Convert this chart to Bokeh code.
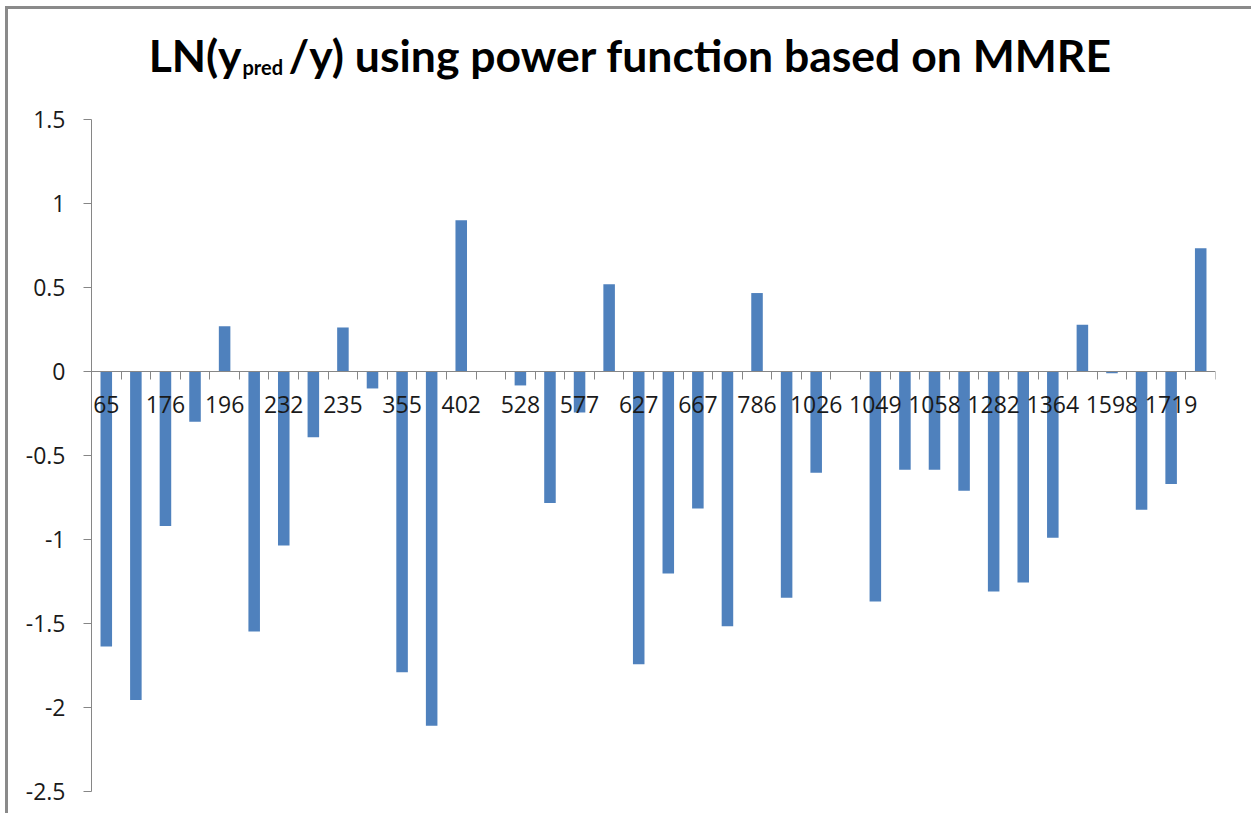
from bokeh.plotting import figure
from bokeh.models import FixedTicker, Label
from bokeh.embed import file_html
from bokeh.resources import INLINE

# ---- data ----
values = [-1.637, -1.956, -0.920, -0.299, 0.270, -1.548, -1.036, -0.391, 0.262, -0.101,
          -1.790, -2.109, 0.901, 0.0, -0.083, -0.783, -0.244, 0.520, -1.742, -1.202,
          -0.815, -1.516, 0.467, -1.347, -0.603, 0.0, -1.369, -0.585, -0.585, -0.710,
          -1.310, -1.256, -0.990, 0.278, -0.010, -0.823, -0.670, 0.734]
tick_labels = ["65", "176", "196", "232", "235", "355", "402", "528", "577", "627",
               "667", "786", "1026", "1049", "1058", "1282", "1364", "1598", "1719"]
y_ticks = [-2.5, -2.0, -1.5, -1.0, -0.5, 0.0, 0.5, 1.0, 1.5]

n = len(values)
xs = list(range(1, n + 1))
label_pos = xs[0::2]

AXIS_COLOR = "#868686"
TEXT_COLOR = "#1a1a1a"

# layout geometry (pixels on the canvas)
W, H = 1246, 807
FRAME_L, FRAME_R, FRAME_B = 83, 1207, 782
Y_MIN, Y_AX_MAX = -2.5, 1.5
AX_TOP = 110                                 # canvas y of the 1.5 tick
PX_PER_UNIT = (FRAME_B - AX_TOP) / (Y_AX_MAX - Y_MIN)
Y_TOP = Y_AX_MAX + AX_TOP / PX_PER_UNIT      # frame reaches the canvas top (room for title)
X_PX = (FRAME_R - FRAME_L) / n


def cx(px):  # canvas px -> x data
    return 0.5 + (px - FRAME_L) / X_PX


def cy(py):  # canvas px -> y data
    return Y_AX_MAX + (AX_TOP - py) / PX_PER_UNIT


p = figure(width=W, height=H, output_backend="svg", toolbar_location=None,
           x_range=(0.5, n + 0.5), y_range=(Y_MIN, Y_TOP),
           min_border_left=FRAME_L, min_border_right=W - FRAME_R, min_border_top=0,
           min_border_bottom=H - FRAME_B)
p.styles = {"border-top": "3px solid #8a8a8a", "border-left": "3px solid #8a8a8a",
            "margin-top": "6px", "margin-left": "5px"}
p.outline_line_color = None
p.xgrid.visible = False
p.ygrid.visible = False
p.background_fill_color = "white"
p.border_fill_color = "white"

p.vbar(x=xs, top=values, bottom=0, width=0.39, fill_color="#4F81BD", line_color=None)

# x axis crossing at y = 0
xa = p.xaxis[0]
xa.fixed_location = 0
xa.ticker = FixedTicker(ticks=label_pos, minor_ticks=[i + 0.5 for i in range(0, n + 1)])
xa.major_label_overrides = {t: lab for t, lab in zip(label_pos, tick_labels)}
xa.axis_line_color = AXIS_COLOR
xa.major_tick_out = 0
xa.major_tick_in = 0
xa.minor_tick_out = 8
xa.minor_tick_in = 0
xa.minor_tick_line_color = AXIS_COLOR
xa.major_label_standoff = 16
xa.major_label_text_font = "Open Sans"
xa.major_label_text_font_size = "23px"
xa.major_label_text_color = TEXT_COLOR

ya = p.yaxis[0]
ya.bounds = (Y_MIN, Y_AX_MAX)
ya.ticker = FixedTicker(ticks=y_ticks, minor_ticks=[])
ya.major_label_overrides = {t: ("%g" % t) for t in y_ticks}
ya.axis_line_color = AXIS_COLOR
ya.major_tick_line_color = AXIS_COLOR
ya.major_tick_out = 8
ya.major_tick_in = 0
ya.major_label_standoff = 18
ya.major_label_text_font = "Open Sans"
ya.major_label_text_font_size = "23px"
ya.major_label_text_color = TEXT_COLOR

# title with subscript, built from three labels
TITLE_FONT = "Lato"
p.add_layout(Label(x=cx(233), y=cy(45), text="LN(y",
                   text_font=TITLE_FONT, text_font_size="44.5px", text_font_style="bold",
                   text_align="right", text_baseline="alphabetic", text_color="black"))
p.add_layout(Label(x=cx(234), y=cy(57), text="pred",
                   text_font=TITLE_FONT, text_font_size="20px", text_font_style="bold",
                   text_align="left", text_baseline="alphabetic", text_color="black"))
p.add_layout(Label(x=cx(280), y=cy(45),
                   text="/y) using power function based on MMRE",
                   text_font=TITLE_FONT, text_font_size="44.5px", text_font_style="bold",
                   text_align="left", text_baseline="alphabetic", text_color="black"))

open("out.html", "w").write(file_html(p, INLINE))
